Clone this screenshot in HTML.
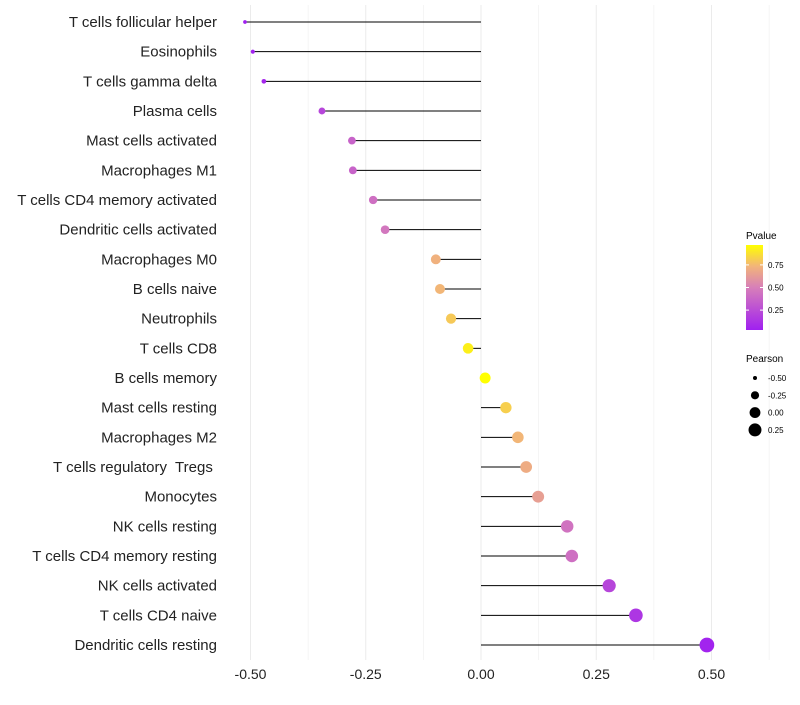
<!DOCTYPE html>
<html><head><meta charset="utf-8"><style>
body{margin:0;background:#fff;font-family:"Liberation Sans",sans-serif;}
svg text{font-family:"Liberation Sans",sans-serif;white-space:pre;}
</style></head><body>
<svg id="chart" width="800" height="700" xmlns="http://www.w3.org/2000/svg">
<defs><linearGradient id="pg" x1="0" y1="1" x2="0" y2="0">
<stop offset="0" stop-color="#a020f0"/><stop offset="0.5" stop-color="#d77fb9"/><stop offset="0.75" stop-color="#f2b47a"/><stop offset="1" stop-color="#ffff00"/></linearGradient></defs>
<g id="grid"></g>
<g id="marks"></g>
<g id="xaxis"></g>
<g id="yaxis"></g>
<g>
<text x="746" y="239" font-size="10">Pvalue</text>
<rect x="746" y="245" width="17" height="85" fill="url(#pg)"/>
<g id="pleg"></g>
</g>
<g id="sleg">
<text x="746" y="362" font-size="10">Pearson</text>
</g>
</svg>
<script>
const categories=["T cells follicular helper","Eosinophils","T cells gamma delta","Plasma cells","Mast cells activated","Macrophages M1","T cells CD4 memory activated","Dendritic cells activated","Macrophages M0","B cells naive","Neutrophils","T cells CD8","B cells memory","Mast cells resting","Macrophages M2","T cells regulatory  Tregs ","Monocytes","NK cells resting","T cells CD4 memory resting","NK cells activated","T cells CD4 naive","Dendritic cells resting"];
const pearson=[-0.512,-0.495,-0.471,-0.345,-0.280,-0.278,-0.234,-0.208,-0.098,-0.089,-0.065,-0.028,0.009,0.054,0.080,0.098,0.124,0.187,0.197,0.278,0.336,0.490];
const pvalues=[0.03,0.04,0.06,0.22,0.36,0.36,0.42,0.46,0.72,0.74,0.80,0.92,0.97,0.82,0.74,0.70,0.64,0.44,0.42,0.22,0.14,0.05];
const xTicks=[-0.5,-0.25,0,0.25,0.5];
const xTickLabels=["-0.50","-0.25","0.00","0.25","0.50"];
const pTicks=[0.25,0.5,0.75];
const sTicks=[-0.5,-0.25,0,0.25];
const NS="http://www.w3.org/2000/svg";
const X=v=>481+v*461;
const Y=i=>22+i*(623/21);
const R=v=>Math.sqrt(4+50.7*(v+0.5));
const PY=p=>330-(p-0.03)/(0.94)*85;
function col(p){const st=[[0,[160,32,240]],[0.5,[215,127,185]],[0.75,[242,180,122]],[1,[255,255,0]]];
 let t=Math.max(0,Math.min(1,(p-0.03)/0.94));
 for(let k=1;k<st.length;k++){if(t<=st[k][0]){const a=st[k-1],b=st[k],f=(t-a[0])/(b[0]-a[0]);
 return "rgb("+a[1].map((c,j)=>Math.round(c+(b[1][j]-c)*f)).join(",")+")";}}return "rgb(255,255,0)";}
function mk(t,at,p){const e=document.createElementNS(NS,t);for(const k in at)e.setAttribute(k,at[k]);p.appendChild(e);return e;}
const grid=document.getElementById('grid'),marks=document.getElementById('marks'),xa=document.getElementById('xaxis'),ya=document.getElementById('yaxis');
for(let v=-0.5;v<=0.626;v+=0.125){const g=mk('line',{x1:X(v),x2:X(v),y1:5,y2:660,stroke:'#ebebeb','stroke-width':Math.abs((v*4)%1)<1e-6?1:0.5},grid);

}
xTicks.forEach((v,i)=>{const t=mk('text',{x:X(v),y:679,'font-size':14,'text-anchor':'middle',fill:'#222'},xa);t.textContent=xTickLabels[i];

});
categories.forEach((c,i)=>{const t=mk('text',{x:217,y:Y(i)+5,'font-size':15,'text-anchor':'end',fill:'#222'},ya);t.textContent=c;


const l=mk('line',{x1:X(0),x2:X(pearson[i]),y1:Y(i),y2:Y(i),stroke:'#000','stroke-width':1},marks);


const d=mk('circle',{cx:X(pearson[i]),cy:Y(i),r:R(pearson[i]),fill:col(pvalues[i])},marks);

});
const pl=document.getElementById('pleg');
pTicks.forEach(p=>{mk('line',{x1:746,x2:749,y1:PY(p),y2:PY(p),stroke:'#fff'},pl);mk('line',{x1:760,x2:763,y1:PY(p),y2:PY(p),stroke:'#fff'},pl);
const t=mk('text',{x:768,y:PY(p)+3,'font-size':8},pl);t.textContent=p.toFixed(2);

});
const sl=document.getElementById('sleg');
sTicks.forEach((v,i)=>{const y=378+i*17.3;mk('circle',{cx:755,cy:y,r:R(v),fill:'#000'},sl);
const t=mk('text',{x:768,y:y+3,'font-size':8},sl);t.textContent=v.toFixed(2);

});
</script>
</body></html>
